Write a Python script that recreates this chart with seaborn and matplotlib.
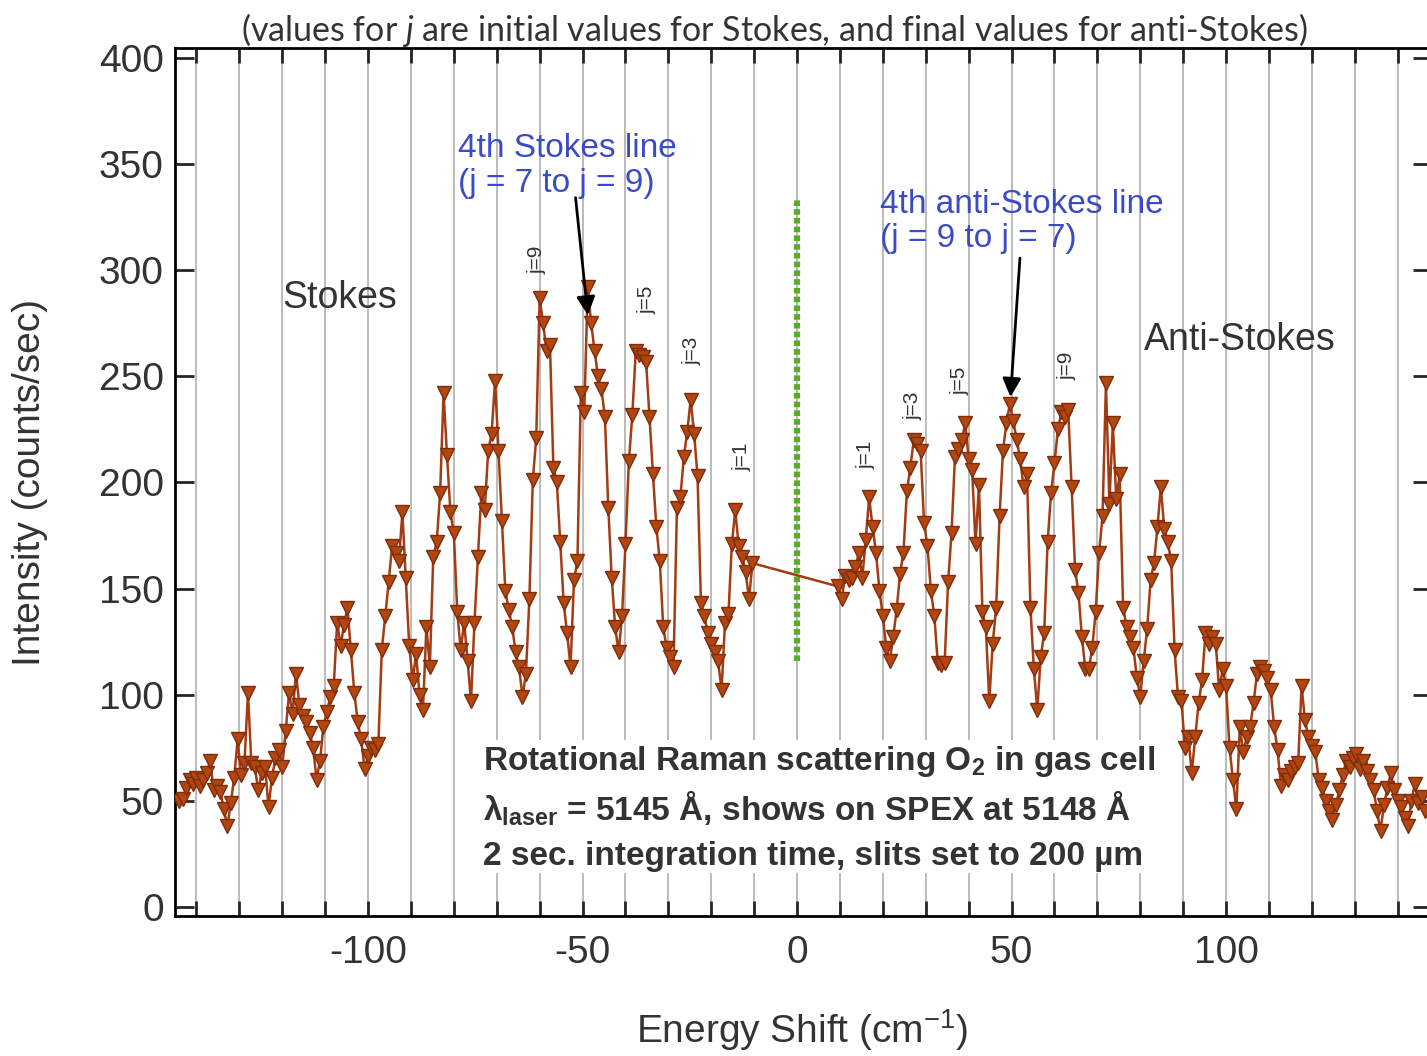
import numpy as np
import pandas as pd
import seaborn as sns
import matplotlib.pyplot as plt
from matplotlib.patches import Rectangle

# Raman shift grid (instrument step ~0.8 cm^-1)
stokes_start, stokes_step = -144.0, 0.8
anti_start, anti_step = 9.6, 0.8

# Intensities (counts/sec)
stokes_y = [50, 51, 56, 60, 58, 61, 57, 60, 63, 69,
            55, 57, 54, 46, 38, 49, 61, 79, 62, 68,
            101, 68, 66, 55, 63, 66, 47, 61, 70, 74,
            66, 83, 101, 91, 110, 95, 90, 87, 82, 75,
            60, 69, 85, 92, 99, 104, 134, 123, 133, 141,
            121, 101, 87, 79, 65, 71, 75, 74, 77, 121,
            137, 153, 170, 167, 163, 186, 155, 123, 107, 119,
            100, 93, 132, 113, 165, 172, 195, 242, 213, 186,
            176, 139, 121, 134, 116, 97, 134, 165, 195, 187,
            215, 223, 248, 215, 182, 149, 140, 132, 120, 113,
            99, 110, 145, 201, 221, 287, 275, 262, 265, 207,
            200, 172, 143, 129, 113, 154, 163, 242, 233, 292,
            275, 262, 250, 244, 231, 188, 155, 132, 120, 137,
            171, 210, 232, 262, 260, 259, 257, 231, 204, 179,
            163, 132, 122, 118, 113, 188, 193, 212, 224, 239,
            223, 203, 143, 137, 129, 124, 120, 116, 102, 134,
            138, 171, 187, 170, 165, 158, 145, 162]

# Intensities (counts/sec)
anti_y = [151, 145, 156, 154, 155, 160, 167, 155, 173, 193,
          179, 167, 149, 137, 122, 116, 127, 140, 157, 167,
          196, 207, 220, 218, 215, 181, 170, 149, 137, 115,
          114, 115, 153, 176, 212, 216, 220, 228, 211, 206,
          171, 199, 139, 132, 97, 124, 141, 184, 215, 228,
          237, 229, 220, 211, 198, 204, 141, 112, 93, 118,
          129, 172, 195, 209, 225, 233, 231, 234, 198, 159,
          148, 127, 112, 112, 122, 139, 167, 184, 247, 190,
          228, 192, 204, 141, 132, 127, 122, 108, 99, 116,
          131, 154, 162, 179, 198, 178, 172, 163, 121, 99,
          97, 75, 80, 63, 80, 96, 107, 129, 124, 127,
          124, 102, 112, 104, 75, 60, 46, 85, 73, 80,
          85, 96, 110, 113, 111, 108, 102, 85, 74, 57,
          62, 60, 64, 66, 68, 104, 88, 80, 76, 73,
          60, 56, 50, 45, 41, 48, 55, 62, 69, 66,
          70, 72, 65, 69, 64, 60, 55, 45, 36, 48,
          56, 63, 55, 50, 47, 42, 38, 50, 58, 49,
          52, 45]

stokes_x = np.round(stokes_start + stokes_step * np.arange(len(stokes_y)), 1)
anti_x = np.round(anti_start + anti_step * np.arange(len(anti_y)), 1)

df = pd.DataFrame({
    "shift": np.concatenate([stokes_x, anti_x]),
    "intensity": stokes_y + anti_y,
})

# j labels: (text, x, y)
j_labels = [("j=9", -60.6, 305), ("j=5", -35.0, 286), ("j=3", -24.5, 262), ("j=1", -12.8, 212),
            ("j=1", 16.1, 213), ("j=3", 27.0, 236), ("j=5", 38.0, 248), ("j=9", 63.0, 255)]

sns.set_style("ticks")
plt.rcParams["font.family"] = ["Liberation Sans", "DejaVu Sans"]
plt.rcParams["axes.unicode_minus"] = False
plt.rcParams["mathtext.fontset"] = "custom"
plt.rcParams["mathtext.rm"] = "Liberation Sans"
plt.rcParams["mathtext.bf"] = "Liberation Sans:bold"
plt.rcParams["mathtext.it"] = "Lato:italic"

W, H = 1427, 1056
fig = plt.figure(figsize=(W / 100, H / 100), dpi=100)
ax = fig.add_axes([175 / W, 1 - 916 / H, (1432 - 175) / W, (916 - 48) / H])

line_col = "#a33c14"
sns.lineplot(data=df, x="shift", y="intensity", sort=False, estimator=None, ax=ax,
             color=line_col, lw=1.8, marker="v", markersize=10.5,
             markerfacecolor="#b3460f", markeredgecolor="#7d2c0c", markeredgewidth=1,
             legend=False, zorder=3)

# laser line position
ax.plot([0, 0], [116, 333], color="#5aab2c", lw=4.5, ls=(0, (0.9, 0.5)), zorder=2)

ax.set_xlim(-145.0, 148.0)
ax.set_ylim(-4.24, 404.7)
ax.set_xticks([-100, -50, 0, 50, 100])
ax.set_xticks(np.arange(-140, 141, 10), minor=True)
ax.set_yticks(np.arange(0, 401, 50))
ax.set_axisbelow(True)
ax.grid(True, which="both", axis="x", color="#b5b5b5", lw=1.3, zorder=0)
ax.grid(False, axis="y")
ax.tick_params(axis="x", which="both", direction="in", length=11, width=2, top=True,
               labelsize=28, labelcolor="#333333", pad=14)
ax.tick_params(axis="y", which="major", direction="in", length=14, width=2, right=True,
               labelsize=28, labelcolor="#333333", pad=8)
for s in ax.spines.values():
    s.set_linewidth(2)
    s.set_color("black")
ax.set_xlabel("")
ax.set_ylabel("")

# white box behind the info text
ax.add_patch(Rectangle((-76.2, 16), 162, 62.7, facecolor="white", edgecolor="none", zorder=1))

fig.text(30 / W, 1 - 482 / H, "Intensity (counts/sec)", rotation=90, ha="center", va="center",
         fontsize=28, color="#333333")
fig.text(802 / W, 1 - 1030 / H, "Energy Shift (cm$^{-1}$)", ha="center", va="center",
         fontsize=28, color="#333333")
fig.text(774 / W, 1 - 30 / H,
         "(values for $j$ are initial values for Stokes, and final values for anti-Stokes)",
         ha="center", va="center", fontsize=24.5, color="#333333", family=["Lato", "DejaVu Sans"])

ax.text(-106.5, 287, "Stokes", ha="center", va="center", fontsize=27, color="#333333")
ax.text(103.3, 267, "Anti-Stokes", ha="center", va="center", fontsize=27, color="#333333")

blue = "#3a4bc4"
ax.text(-79.0, 349, "4th Stokes line\n(j = 7 to j = 9)", ha="left", va="center",
        fontsize=24, color=blue, linespacing=1.15)
ax.text(19.3, 323, "4th anti-Stokes line\n(j = 9 to j = 7)", ha="left", va="center",
        fontsize=24, color=blue, linespacing=1.15)
arrow = dict(arrowstyle="-|>", color="black", lw=2, mutation_scale=28)
ax.annotate("", xy=(-48.7, 277.5), xytext=(-51.7, 335.5), arrowprops=arrow, zorder=4)
ax.annotate("", xy=(49.7, 239), xytext=(52.0, 307), arrowprops=arrow, zorder=4)

for txt, x, y in j_labels:
    ax.text(x, y, txt, rotation=90, ha="center", va="center", fontsize=15, color="#333333")

info_lines = ["Rotational Raman scattering O$_\\mathbf{2}$ in gas cell",
              "\u03bb$_\\mathbf{laser}$ = 5145 \u00c5, shows on SPEX at 5148 \u00c5",
              "2 sec. integration time, slits set to 200 \u00b5m"]
for txt, ypx in zip(info_lines, [762, 808, 857]):
    ax.text(-73.2, (907 - ypx) / 2.1225, txt, ha="left", va="center", fontsize=24,
            fontweight="bold", color="#333333", zorder=5)

fig.savefig("out.png", dpi=100)
